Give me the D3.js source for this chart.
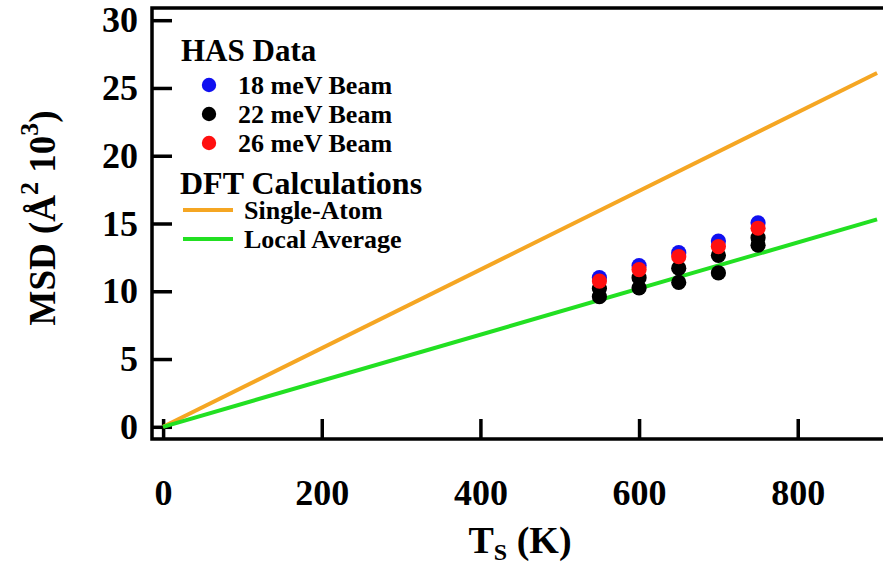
<!DOCTYPE html>
<html>
<head>
<meta charset="utf-8">
<script src="https://cdn.jsdelivr.net/npm/d3@7"></script>
<style>
  html, body { margin: 0; padding: 0; background: #fff; }
  svg { display: block; }
  text { font-family: "Liberation Serif", "Times New Roman", serif; font-weight: bold; fill: #000; }
</style>
</head>
<body>
<svg id="chart" width="883" height="567"></svg>
<script>
// Surface temperatures (K) of the helium-atom-scattering measurements
const tempsHAS = [550, 600, 650, 700, 750];
// Mean-square displacement (Å² ×10³) per beam energy
const msd18 = [11.0, 11.9, 12.85, 13.7, 15.05];
const msd26 = [10.75, 11.6, 12.55, 13.3, 14.65];
// 22 meV beam: two measurements per temperature
const temps22 = [550, 600, 650, 700, 750, 550, 600, 650, 700, 750];
const msd22 = [10.2, 11.0, 11.7, 12.65, 13.95, 9.6, 10.25, 10.65, 11.35, 13.4];

// DFT calculations (linear in temperature)
const tempsDFT = [0, 900];
const singleAtom = [0, 26.1];
const localAverage = [0, 15.3];

const xTicks = [0, 200, 400, 600, 800];
const yTicks = [0, 5, 10, 15, 20, 25, 30];

const colors = { b18: "#1010f0", b22: "#000000", b26: "#ff1010", single: "#f5a623", local: "#22e022" };

const svg = d3.select("#chart");
const frameL = 152, frameR = 883, frameT = 8, frameB = 439;

const x = d3.scaleLinear().domain([-14, 907.5]).range([frameL, frameR]);
const y = d3.scaleLinear().domain([-0.9, 30.9]).range([frameB, frameT]);

// Axes with inward ticks
const yAxis = svg.append("g")
  .attr("transform", `translate(${frameL},0)`)
  .call(d3.axisLeft(y).tickValues(yTicks).tickSizeInner(-20).tickSizeOuter(0).tickPadding(14));
const xAxis = svg.append("g")
  .attr("transform", `translate(0,${frameB})`)
  .call(d3.axisBottom(x).tickValues(xTicks).tickSizeInner(-20).tickSizeOuter(0).tickPadding(40));

[yAxis, xAxis].forEach(g => {
  g.select(".domain").remove();
  g.selectAll(".tick line").attr("stroke", "#000").attr("stroke-width", 3.5);
  g.selectAll(".tick text").style("font-size", "36px").attr("fill", "#000");
});

// Frame: left, bottom and top border
svg.append("path")
  .attr("d", `M${frameR},${frameT}H${frameL}V${frameB}H${frameR}`)
  .attr("fill", "none").attr("stroke", "#000").attr("stroke-width", 3.5);

// DFT lines
const line = d3.line().x(d => x(d[0])).y(d => y(d[1]));
const plot = svg.append("g");
plot.append("path")
  .datum(tempsDFT.map((t, i) => [t, singleAtom[i]]))
  .attr("d", line).attr("fill", "none").attr("stroke", colors.single).attr("stroke-width", 4);
plot.append("path")
  .datum(tempsDFT.map((t, i) => [t, localAverage[i]]))
  .attr("d", line).attr("fill", "none").attr("stroke", colors.local).attr("stroke-width", 4);

// HAS points: 22 meV below, then 18 meV, then 26 meV on top
const r = 7.6;
function dots(ts, vs, color) {
  plot.append("g").selectAll("circle")
    .data(ts.map((t, i) => [t, vs[i]]))
    .join("circle")
    .attr("cx", d => x(d[0])).attr("cy", d => y(d[1])).attr("r", r)
    .attr("fill", color);
}
dots(temps22, msd22, colors.b22);
dots(tempsHAS, msd18, colors.b18);
dots(tempsHAS, msd26, colors.b26);

// Legend
const legend = svg.append("g");
legend.append("text").attr("x", 181).attr("y", 61).style("font-size", "31px").text("HAS Data");
const hasItems = [
  { label: "18 meV Beam", color: colors.b18, cy: 85 },
  { label: "22 meV Beam", color: colors.b22, cy: 114 },
  { label: "26 meV Beam", color: colors.b26, cy: 143 }
];
hasItems.forEach(it => {
  legend.append("circle").attr("cx", 209).attr("cy", it.cy).attr("r", 7.2).attr("fill", it.color);
  legend.append("text").attr("x", 238).attr("y", it.cy + 8.5).style("font-size", "26px").text(it.label);
});
legend.append("text").attr("x", 180).attr("y", 194).style("font-size", "32px").text("DFT Calculations");
const dftItems = [
  { label: "Single-Atom", color: colors.single, cy: 210 },
  { label: "Local Average", color: colors.local, cy: 239 }
];
dftItems.forEach(it => {
  legend.append("line").attr("x1", 183).attr("x2", 233).attr("y1", it.cy).attr("y2", it.cy)
    .attr("stroke", it.color).attr("stroke-width", 4);
  legend.append("text").attr("x", 244).attr("y", it.cy + 8.5).style("font-size", "26px").text(it.label);
});

// Axis titles
const yt = svg.append("text")
  .attr("transform", "translate(55,218) rotate(-90)")
  .attr("text-anchor", "middle")
  .style("font-size", "37px");
yt.append("tspan").text("MSD (Å");
yt.append("tspan").attr("dy", -17).style("font-size", "26px").text("2");
yt.append("tspan").attr("dy", 17).text(" 10");
yt.append("tspan").attr("dy", -17).style("font-size", "26px").text("3");
yt.append("tspan").attr("dy", 17).text(")");

const xt = svg.append("text")
  .attr("x", 520).attr("y", 553)
  .attr("text-anchor", "middle")
  .style("font-size", "38px");
xt.append("tspan").text("T");
xt.append("tspan").attr("dy", 7).style("font-size", "24px").text("S");
xt.append("tspan").attr("dy", -7).text(" (K)");
</script>
</body>
</html>
